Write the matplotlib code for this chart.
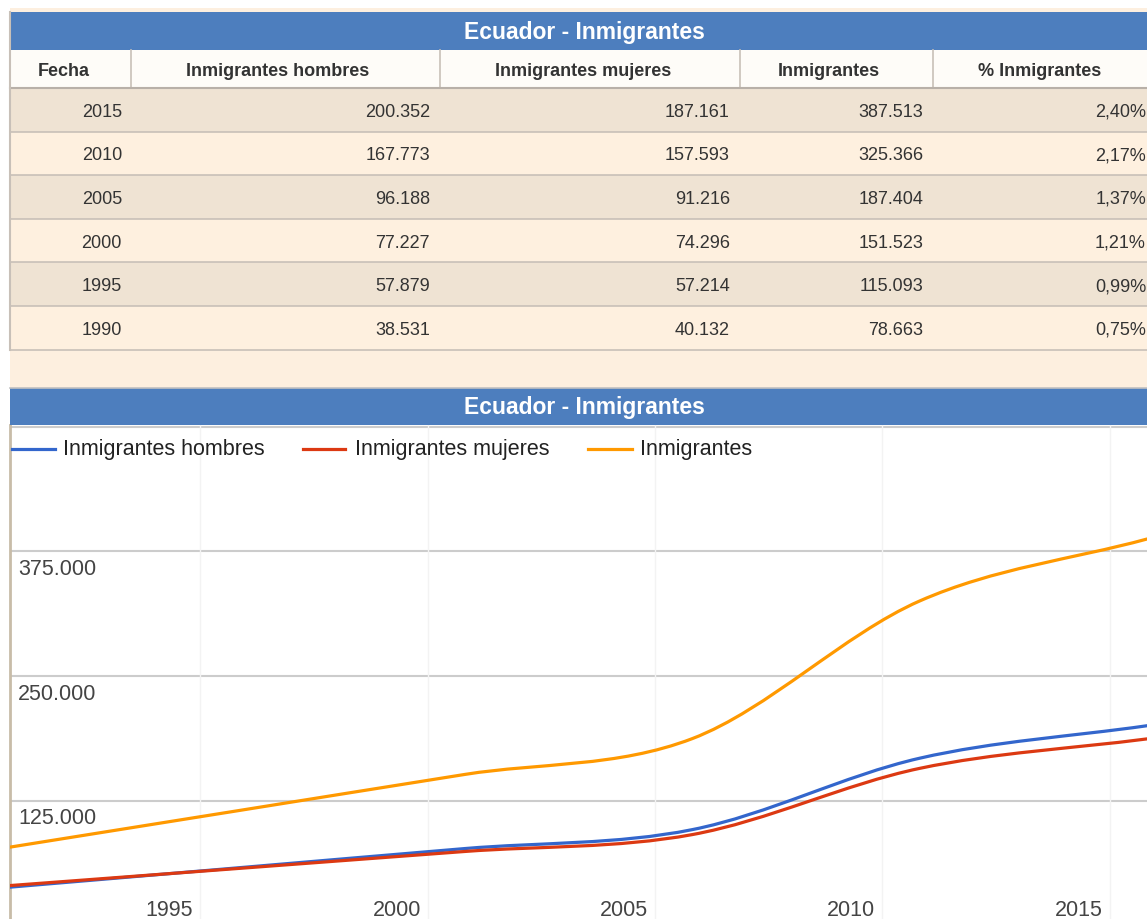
import matplotlib
matplotlib.use("Agg")
import matplotlib.pyplot as plt
from matplotlib.patches import Rectangle, PathPatch
from matplotlib.path import Path
from matplotlib.lines import Line2D

plt.rcParams['font.family'] = ['Liberation Sans', 'DejaVu Sans']

# data
title = "Ecuador - Inmigrantes"
columns = ["Fecha", "Inmigrantes hombres", "Inmigrantes mujeres", "Inmigrantes", "% Inmigrantes"]
years = [2015, 2010, 2005, 2000, 1995, 1990]
hombres = [200352, 167773, 96188, 77227, 57879, 38531]
mujeres = [187161, 157593, 91216, 74296, 57214, 40132]
total = [387513, 325366, 187404, 151523, 115093, 78663]
pct = [2.40, 2.17, 1.37, 1.21, 0.99, 0.75]
xtick_years = [1995, 2000, 2005, 2010, 2015]
ytick_values = [125000, 250000, 375000, 500000]


def fmt_int(v):
    return f"{v:,}".replace(",", ".")


def fmt_pct(v):
    return f"{v:.2f}%".replace(".", ",")


W, H = 1147, 919
fig = plt.figure(figsize=(W / 100, H / 100), dpi=100)
fig.patch.set_facecolor("white")

# page / table layer in pixel coords
bg = fig.add_axes([0, 0, 1, 1])
bg.set_xlim(0, W)
bg.set_ylim(H, 0)
bg.axis("off")

beige = "#fdefdf"
blue_bar = "#4d7ebe"
row_dark = "#efe3d3"
row_light = "#fef0df"
grid_c = "#c8c0b8"
txt_c = "#333333"

bg.add_patch(Rectangle((10, 8), W, 380, color=beige, lw=0))
bg.add_patch(Rectangle((10, 12), W, 38, color=blue_bar, lw=0))
bg.text(584, 39, title, color="white", fontsize=16.5, fontweight="bold", ha="center", va="baseline")
bg.add_patch(Rectangle((10, 50), W, 38, color="#fefcf8", lw=0))

col_edges = [10, 131, 440, 740, 933]
head_x = [64, 278, 583, 829, 1040]
for cx, name in zip(head_x, columns):
    bg.text(cx, 76, name, color=txt_c, fontsize=13, fontweight="bold", ha="center", va="baseline")
for e in col_edges[1:]:
    bg.plot([e, e], [50, 88], color=grid_c, lw=1.2)
bg.plot([10, W], [88, 88], color="#b8b0a8", lw=1.5)

row_h = 43.6
right_x = [122, 430, 730, 923, 1146]
for i, yr in enumerate(years):
    top = 88 + i * row_h
    bg.add_patch(Rectangle((10, top), W, row_h, color=row_dark if i % 2 == 0 else row_light, lw=0))
    bg.plot([10, W], [top + row_h, top + row_h], color=grid_c, lw=1.2)
    cells = [str(yr), fmt_int(hombres[i]), fmt_int(mujeres[i]), fmt_int(total[i]), fmt_pct(pct[i])]
    for rx, s in zip(right_x, cells):
        bg.text(rx, top + row_h / 2 + 7, s, color=txt_c, fontsize=13, ha="right", va="baseline")
bg.plot([10, 10], [12, 350], color=grid_c, lw=1.5)

# chart header
bg.add_patch(Rectangle((10, 388), W, 37, color=blue_bar, lw=0))
bg.plot([10, W], [387.5, 387.5], color="#c0c0c0", lw=1.2)
bg.text(584, 414, title, color="white", fontsize=16.5, fontweight="bold", ha="center", va="baseline")

# chart
ax = fig.add_axes([10 / W, 0, (W - 10) / W, (H - 425) / H])
ax.set_xlim(1990, 2015)
ax.set_ylim(6616, 501800)
ax.set_facecolor("white")
for s in ax.spines.values():
    s.set_visible(False)
ax.tick_params(left=False, bottom=False, labelleft=False, labelbottom=False)

for v in ytick_values:
    ax.axhline(v, color="#cccccc", lw=1.5, zorder=1)
    if v < 500000:
        ax.annotate(fmt_int(v), xy=(0, v), xycoords=("axes fraction", "data"),
                    xytext=(8, -18), textcoords="offset pixels",
                    fontsize=15.5, color="#444444", ha="left", va="center")
for yr in xtick_years:
    ax.axvline(yr - 0.82, color="#f3f3f3", lw=1.0, zorder=1)
    ax.text(yr - 1.5, 0.018, str(yr), transform=ax.get_xaxis_transform(),
            fontsize=15.5, color="#444444", ha="center", va="center")
ax.plot([1990, 1990], [0, 1], transform=ax.get_xaxis_transform(), color="#c8bca8", lw=2, clip_on=False)


def smooth_path(xs, ys):
    pts = list(zip(xs, ys))
    n = len(pts)
    tan = []
    for i in range(n):
        a = pts[max(i - 1, 0)]
        b = pts[min(i + 1, n - 1)]
        k = 2.0 if 0 < i < n - 1 else 1.0
        tan.append(((b[0] - a[0]) / k, (b[1] - a[1]) / k))
    verts = [pts[0]]
    codes = [Path.MOVETO]
    for i in range(n - 1):
        p0, p1 = pts[i], pts[i + 1]
        verts += [(p0[0] + tan[i][0] / 3, p0[1] + tan[i][1] / 3),
                  (p1[0] - tan[i + 1][0] / 3, p1[1] - tan[i + 1][1] / 3), p1]
        codes += [Path.CURVE4] * 3
    return Path(verts, codes)


xs = years[::-1]
series = [("Inmigrantes hombres", hombres, "#3366cc"),
          ("Inmigrantes mujeres", mujeres, "#dc3912"),
          ("Inmigrantes", total, "#ff9900")]
for name, vals, c in series:
    ax.add_patch(PathPatch(smooth_path(xs, vals[::-1]), fill=False, edgecolor=c, lw=2.3,
                           capstyle="round", joinstyle="round", zorder=3))

# legend
leg_x = [(12, 55, 63), (303, 345, 355), (588, 632, 640)]
for (x0, x1, tx), (name, vals, c) in zip(leg_x, series):
    bg.add_line(Line2D([x0, x1], [449, 449], color=c, lw=2.3, zorder=5))
    bg.text(tx, 449, name, color="#222222", fontsize=15.5, ha="left", va="center", zorder=5)
bg.set_zorder(2)
bg.patch.set_visible(False)
ax.set_zorder(1)

fig.savefig("out.png", dpi=100)
